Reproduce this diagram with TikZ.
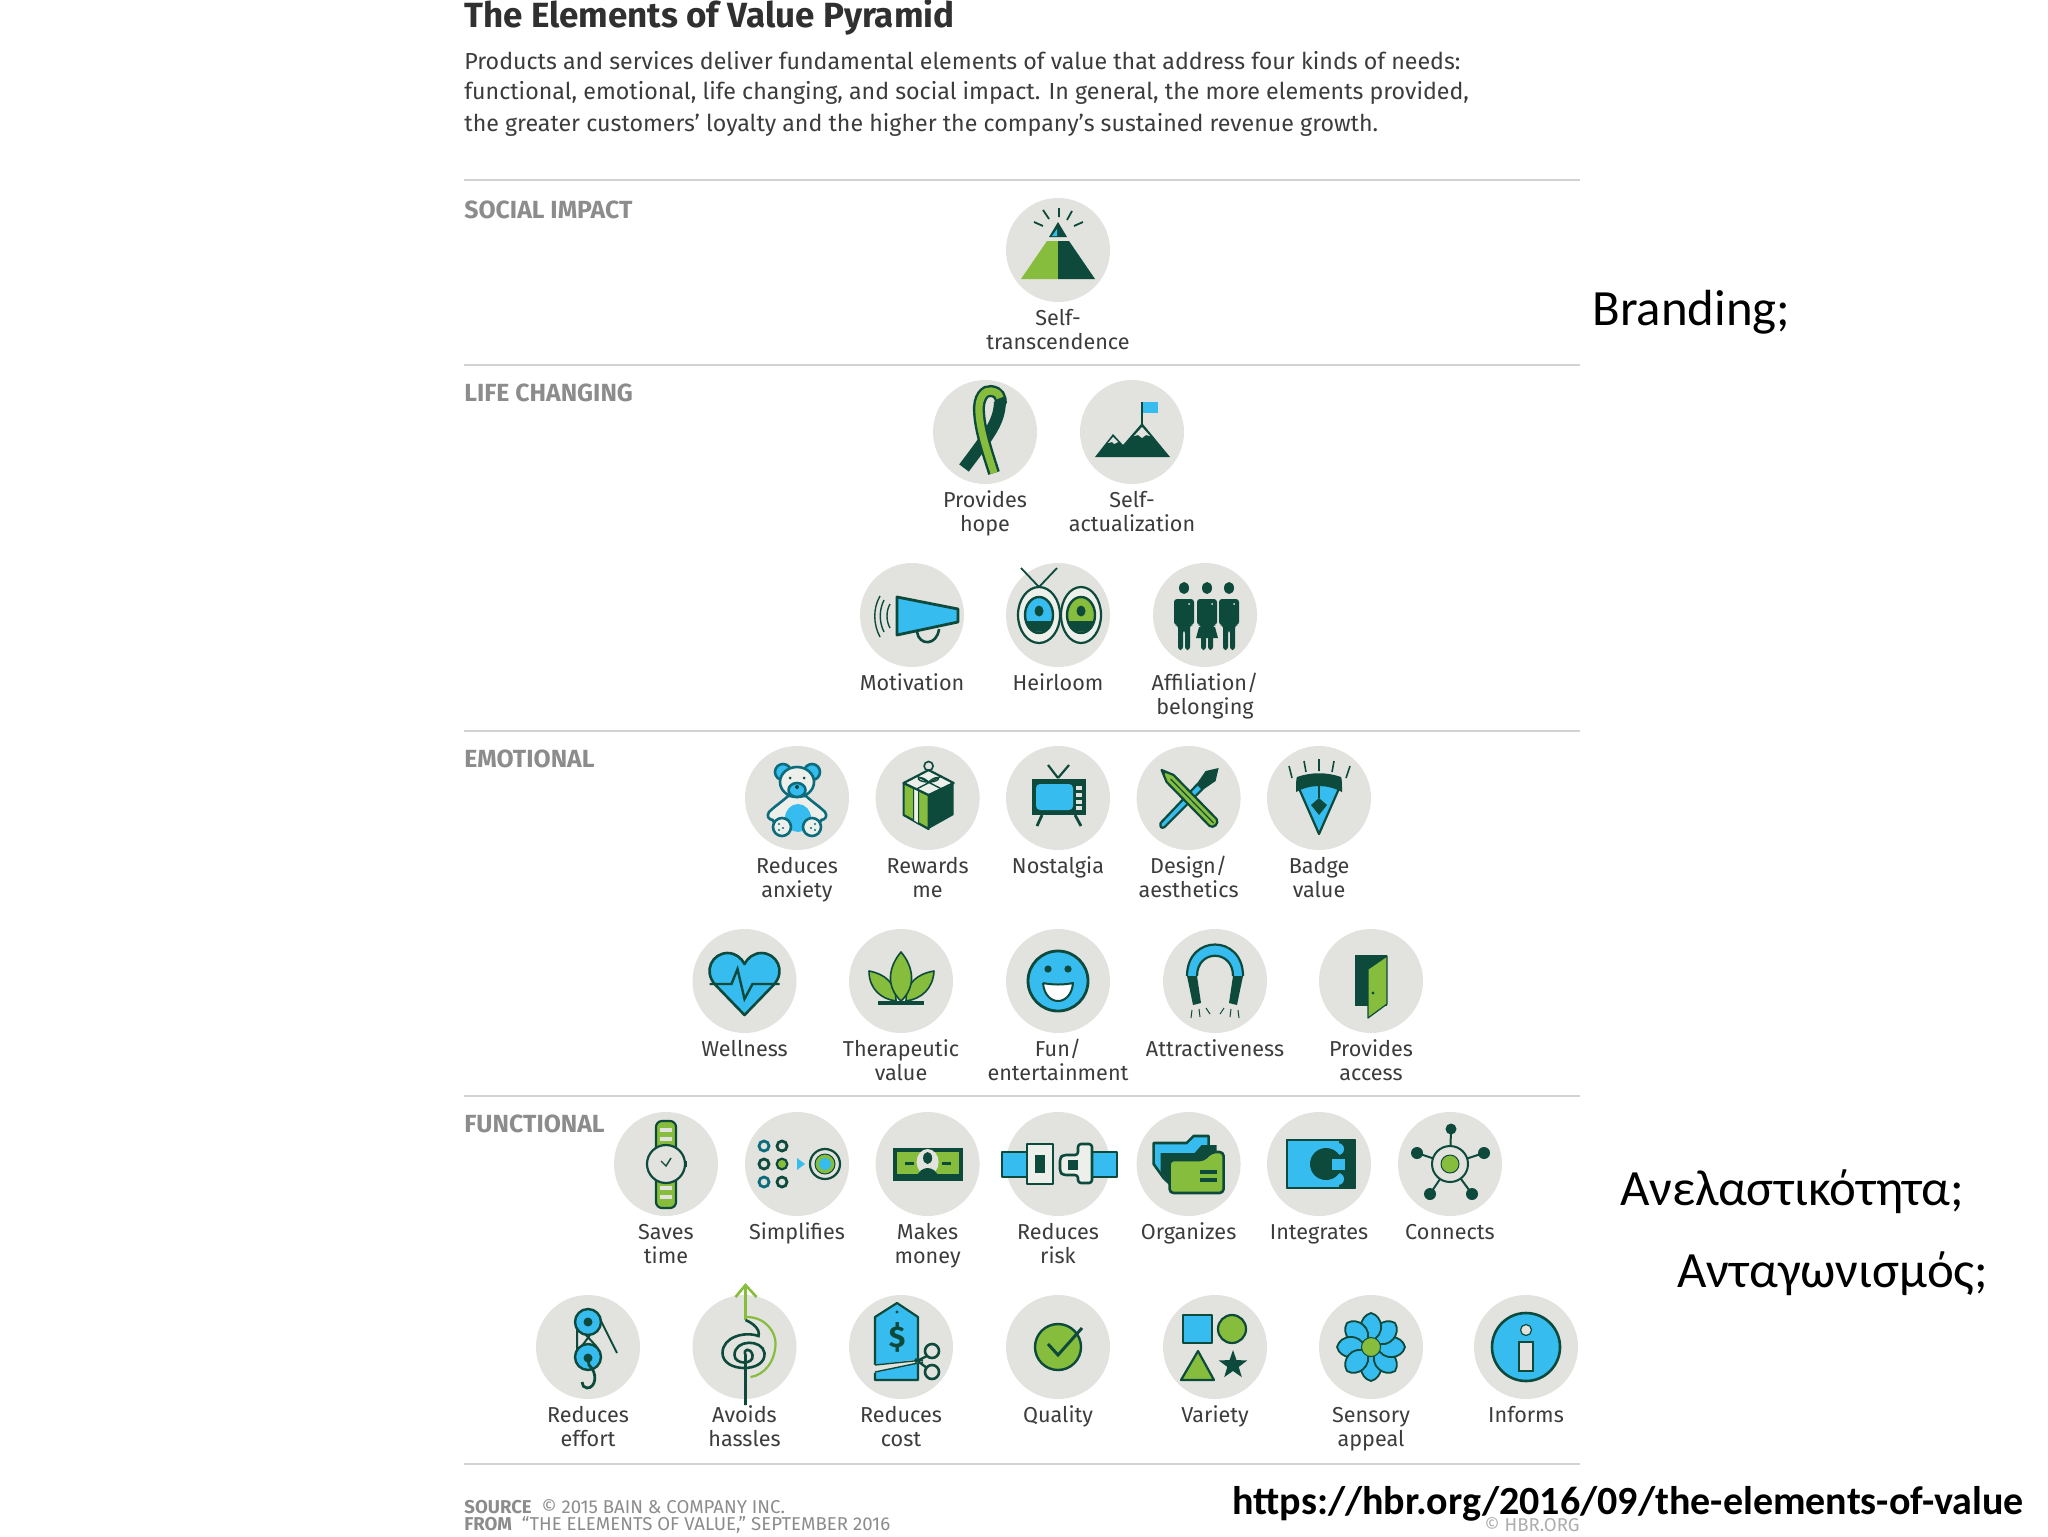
\documentclass[tikz,border=0pt]{standalone}
\usepackage{fontspec}
\setmainfont{Fira Sans}
\newfontfamily\calib{Carlito}
\definecolor{dk}{HTML}{0E4A3C}
\definecolor{gn}{HTML}{86BD3C}
\definecolor{bl}{HTML}{36BCEE}
\definecolor{tl}{HTML}{0C6C7C}
\definecolor{dsk}{HTML}{E2E2DF}
\definecolor{lt}{HTML}{EDF0EA}
\definecolor{tx}{HTML}{3C3C3C}
\definecolor{hd}{HTML}{8C8C8C}
\definecolor{rl}{HTML}{D2D2D2}
\tikzset{
  disc/.style={circle,fill=dsk,minimum size=52pt,inner sep=0pt,draw=none},
  lab/.style={anchor=north,align=center,inner sep=0pt,text=tx,font=\fontsize{10.8}{12}\selectfont},
  ol/.style={draw=dk,line width=1.1pt,line join=round},
  tol/.style={draw=tl,line width=1.3pt,line join=round},
  rule/.style={draw=rl,line width=1pt},
  sect/.style={anchor=west,inner sep=0pt,text=hd,font=\bfseries\fontsize{12.4}{14}\selectfont},
  para/.style={anchor=west,inner sep=0pt,text=tx,font=\fontsize{11.6}{13}\selectfont},
  side/.style={anchor=west,inner sep=0pt,text=black,font=\calib\fontsize{25.4}{28}\selectfont},
  foot/.style={anchor=west,inner sep=0pt,text=hd,font=\fontsize{9.3}{11}\selectfont},
}
\newcommand{\elem}[5]{%
  \node[disc] (#1) at (#2,#3) {};
  \node[lab] (#1-l) at (#2,#3+55) {\rule{0pt}{10pt}#4};
  \begin{scope}[shift={(#1.center)}]#5\end{scope}}
\begin{document}
\begin{tikzpicture}[x=.5pt,y=-.5pt]
\useasboundingbox (0,0) rectangle (2048,1536);
\fill[white] (0,0) rectangle (2048,1536);
% header
\node[anchor=west,inner sep=0pt,text=tx!80!black,font=\bfseries\fontsize{17.5}{20}\selectfont] (title) at (464,17) {The Elements of Value Pyramid};
\node[para] (p1) at (464,61) {Products and services deliver fundamental elements of value that address four kinds of needs:};
\node[para] (p2) at (464,93) {functional, emotional, life changing, and social impact. In general, the more elements provided,};
\node[para] (p3) at (464,125) {the greater customers’ loyalty and the higher the company’s sustained revenue growth.};
% rules
\foreach \yy/\nm in {180/a,365/b,731/c,1096/d,1464/e}{
  \coordinate (r\nm l) at (464,\yy); \coordinate (r\nm r) at (1580,\yy);
  \draw[rule] (r\nm l) -- (r\nm r);}
\node[sect] (s1) at (464,210) {SOCIAL IMPACT};
\node[sect] (s2) at (464,393) {LIFE CHANGING};
\node[sect] (s3) at (464,759) {EMOTIONAL};
\node[sect] (s4) at (464,1124) {FUNCTIONAL};
% --- social
\elem{trans}{1058}{250}{Self-\\transcendence}{
  \fill[gn] (-37,29)--(0,29)--(0,-9)--(-11,-9)--cycle;
  \fill[dk] (37,29)--(0,29)--(0,-9)--(11,-9)--cycle;
  \fill[dk] (0,-28)--(-9,-13)--(9,-13)--cycle;
  \fill[bl] (-1,-21)--(-6,-14)--(-1,-14)--cycle;
  \draw[ol,line width=.9pt] (-24,-28)--(-15,-24) (-15,-40)--(-9,-31) (1,-42)--(1,-33) (14,-39)--(9,-30) (25,-28)--(16,-24);
}
% --- life changing
\elem{hope}{985}{432}{Provides\\hope}{
  \draw[dk,line width=6pt] (15,-30) .. controls (14,-10) and (6,0) .. (-21,36);
  \draw[dk,line width=6pt] (9,41) .. controls (4,25) and (-5,0) .. (-6,-20) .. controls (-7,-35) and (0,-42) .. (6,-41) .. controls (14,-40) and (16,-35) .. (16,-28);
  \draw[gn,line width=3.6pt] (9,41) .. controls (4,25) and (-5,0) .. (-6,-20) .. controls (-7,-35) and (0,-42) .. (6,-41) .. controls (12,-40) and (14,-38) .. (15,-34);
}
\elem{actual}{1132}{432}{Self-\\actualization}{
  \fill[dk] (-37,25)--(-19,2)--(-9,13)--(10,-9)--(38,25)--cycle;
  \fill[dsk] (-19,5)--(-24,11)--(-20,10)--(-18,12)--(-14,10)--cycle;
  \fill[dsk] (10,-5)--(2,4)--(6,3)--(10,6)--(14,3)--(18,4)--cycle;
  \draw[dk,line width=.9pt] (10,-8)--(10,-30);
  \fill[bl] (11,-30) rectangle (26,-19);
}
\elem{motiv}{912}{615}{Motivation}{
  \draw[dk,line width=1.3pt,fill=dsk] (5,17) .. controls (7,31) and (25,31) .. (27,14);
  \draw[ol,fill=bl,line width=1.4pt] (-15,-18)--(46,-6)--(46,7)--(-15,20)--cycle;
  \draw[dk,line width=.7pt] (-22,-11) .. controls (-26,-4) and (-26,6) .. (-22,13);
  \draw[dk,line width=.7pt] (-28,-15) .. controls (-33,-5) and (-33,7) .. (-28,17);
  \draw[dk,line width=.7pt] (-32,-19) .. controls (-39,-7) and (-39,9) .. (-32,22);
}
\elem{heir}{1058}{615}{Heirloom}{
  \draw[dk,line width=.9pt] (-37,-47)--(-19,-28)--(-1,-47);
  \foreach \cx/\cc/\erad in {-19/bl/21,23/gn/20}{
    \draw[ol,fill=lt] (\cx,0) ellipse [x radius=\erad, y radius=28];
    \draw[dk,line width=1.2pt,fill=\cc] (\cx,0) ellipse [x radius=14, y radius=18];
    \fill[dk] (\cx,-4) ellipse [x radius=4.5, y radius=5.5];
    \fill[dk] (\cx-12,6) -- (\cx+12,6) -- (\cx+11,13) .. controls (\cx+5,18) and (\cx-5,18) .. (\cx-11,13) -- cycle;
  }
}
\elem{affil}{1205}{615}{Affiliation/\\belonging}{
  \foreach \px in {-21,2,24}{
    \fill[dk] (\px,-27) ellipse [x radius=5, y radius=6];
    \fill[dk,rounded corners=1.5pt] (\px-10,-16) -- (\px+10,-16) -- (\px+10,10) -- (\px+6,10) -- (\px+6,35) -- (\px+1,35) -- (\px+1,15) -- (\px-1,15) -- (\px-1,35) -- (\px-6,35) -- (\px-6,10) -- (\px-10,10) -- cycle;
    \fill[dsk] (\px+5,-11) circle (1);
  }
  \fill[dk] (-6,12)--(10,12)--(13,23)--(-9,23)--cycle;
}
% --- emotional 1
\elem{anx}{797}{798}{Reduces\\anxiety}{
  \fill[bl] (-14,-26) circle (8); \fill[bl] (15,-26) circle (8);
  \draw[tol] (-14,-26) circle (8); \draw[tol] (15,-26) circle (8);
  \draw[tol,fill=lt] (-9,-2) .. controls (-14,3) and (-22,8) .. (-28,14) .. controls (-31,18) and (-28,22) .. (-24,22) .. controls (-28,28) and (28,28) .. (24,22) .. controls (28,22) and (31,18) .. (28,14) .. controls (22,8) and (14,3) .. (9,-2) -- cycle;
  \draw[tol,fill=lt] (0,-16) ellipse [x radius=17, y radius=15];
  \draw[tol,fill=bl] (0,-8) ellipse [x radius=8.5, y radius=7];
  \fill[dk] (-7,-20) circle (1.5); \fill[dk] (7,-20) circle (1.5); \fill[dk] (0,-11) circle (2);
  \fill[bl] (1,20) ellipse [x radius=13, y radius=14];
  \draw[tol,fill=lt] (-15,29) circle (9); \draw[tol,fill=lt] (15,29) circle (9);
  \fill[tl] (-18,26) circle (1.2); \fill[tl] (-14,30) circle (1.2); \fill[tl] (-18,32) circle (1.2);
  \fill[tl] (18,26) circle (1.2); \fill[tl] (14,30) circle (1.2); \fill[tl] (18,32) circle (1.2);
}
\elem{reward}{927.6}{798}{Rewards\\me}{
  \draw[ol,fill=gn] (-24,-15)--(1,-3)--(1,31)--(-24,17)--cycle;
  \fill[dk] (26,-15)--(1,-3)--(1,31)--(26,17)--cycle;
  \draw[dk,line width=.6pt,fill=lt] (-14,-10)--(-9,-8)--(-9,26)--(-14,23)--cycle;
  \draw[ol,fill=lt] (1,-28)--(26,-15)--(1,-3)--(-24,-15)--cycle;
  \draw[dk,line width=.7pt] (-11,-9)--(14,-22) (-11,-22)--(14,-9);
  \draw[dk,line width=.7pt] (1,-16) .. controls (-10,-26) and (-15,-16) .. (1,-16) .. controls (16,-16) and (12,-26) .. (1,-16);
  \draw[dk,line width=.8pt] (1,-32) circle (4.5);
}
\elem{nost}{1058}{798}{Nostalgia}{
  \draw[dk,line width=1.1pt] (0,-20)--(-10,-33) (0,-20)--(11,-33);
  \draw[dk,line width=1.4pt] (-16,17)--(-21,28) (17,17)--(23,28);
  \fill[dk] (-26,-19) rectangle (28,17);
  \fill[bl,rounded corners=2pt] (-22,-14) rectangle (15,12);
  \foreach \yy in {-12,-5,2,8}{\fill[dsk] (18,\yy) rectangle (24,\yy+4);}
}
\elem{design}{1188.6}{798}{Design/\\aesthetics}{
  \draw[ol,fill=bl] (-28,25) .. controls (-29,29) and (-27,31) .. (-24,29) -- (14,-9) -- (9,-14) -- cycle;
  \fill[dk] (8,-14)--(14,-8)--(27,-17)--(30,-30)--(17,-27)--cycle;
  \draw[ol,fill=gn] (-27,-28)--(-15,-23)--(28,21) .. controls (31,25) and (25,31) .. (21,28) --(-22,-16)--cycle;
  \fill[dk] (-27,-28)--(-22,-26)--(-25,-23)--cycle;
  \draw[dk,line width=.6pt] (-18,-19)--(25,25);
}
\elem{badge}{1319}{798}{Badge\\value}{
  \draw[ol,fill=bl] (-22,-14)--(22,-14)--(0,36)--cycle;
  \fill[dk] (-23,-6) .. controls (-23,-14) and (-23,-19) .. (-22,-21) .. controls (-8,-26) and (8,-26) .. (22,-21) .. controls (23,-19) and (23,-14) .. (23,-6) .. controls (8,-14) and (-8,-14) .. (-23,-6);
  \fill[dk] (-8,7)--(0,0)--(8,7)--(0,17)--cycle;
  \draw[dk,line width=.7pt] (0,-14)--(0,0);
  \draw[ol,line width=.8pt] (-30,-32)--(-27,-20) (-15,-37)--(-13,-26) (0,-39)--(0,-27) (15,-37)--(13,-26) (31,-32)--(27,-20);
}
% --- emotional 2
\elem{well}{744.5}{981}{Wellness}{
  \draw[ol,fill=bl,line width=1.3pt] (0,34) -- (-29,4) .. controls (-42,-10) and (-32,-28) .. (-17,-28) .. controls (-9,-28) and (-3,-23) .. (0,-17) .. controls (3,-23) and (9,-28) .. (17,-28) .. controls (32,-28) and (42,-10) .. (29,4) -- cycle;
  \draw[dk,line width=1.2pt] (-35,3)--(-13,3)--(-7,-12)--(0,18)--(8,3)--(35,3);
}
\elem{thera}{901}{981}{Therapeutic\\value}{
  \fill[dk] (-23,20) rectangle (23,24);
  \draw[ol,fill=gn,line width=.8pt] (-5,20) .. controls (-20,18) and (-32,8) .. (-32,-10) .. controls (-16,-7) and (-5,2) .. (-5,20);
  \draw[ol,fill=gn,line width=.8pt] (5,20) .. controls (20,18) and (32,8) .. (33,-10) .. controls (16,-7) and (5,2) .. (5,20);
  \draw[ol,fill=gn,line width=.8pt] (0,20) .. controls (-16,5) and (-12,-15) .. (0,-29) .. controls (12,-15) and (16,5) .. (0,20);
}
\elem{fun}{1058}{981}{Fun/\\entertainment}{
  \draw[ol,fill=bl,line width=1.4pt] (0,0) circle (30);
  \fill[dk] (-10,-12) circle (3.6); \fill[dk] (10,-12) circle (3.6);
  \draw[ol,fill=white,line width=1pt] (-15,2) .. controls (-5,4) and (5,4) .. (15,2) .. controls (14,14) and (7,20) .. (0,20) .. controls (-7,20) and (-14,14) .. (-15,2);
}
\elem{attr}{1215}{981}{Attractiveness}{
  \fill[bl] (-28,-5) .. controls (-28,-47) and (28,-47) .. (28,-5) -- (18,-5) .. controls (18,-32) and (-18,-32) .. (-18,-5) -- cycle;
  \draw[ol] (-28,-5) .. controls (-28,-47) and (28,-47) .. (28,-5) (18,-5) .. controls (18,-32) and (-18,-32) .. (-18,-5);
  \fill[dk] (-28,-5)--(-18,-5)--(-14,22)--(-22,24)--cycle;
  \fill[dk] (28,-5)--(18,-5)--(14,22)--(22,24)--cycle;
  \draw[dk,line width=.5pt] (-23,29)--(-24,37) (-16,28)--(-15,36) (-9,27)--(-5,33) (23,29)--(24,37) (16,28)--(15,36) (9,27)--(5,33);
}
\elem{access}{1371}{981}{Provides\\access}{
  \fill[dk] (-16,-26) rectangle (16,25);
  \draw[ol,fill=gn,line width=.6pt] (16,-25)--(16,23)--(-3,37)--(-3,-12)--cycle;
  \fill[dk] (2,12) circle (1.6);
}
% --- functional 1
\elem{time}{666}{1164}{Saves\\time}{
  \draw[ol,fill=gn,rounded corners=3pt] (-10,-43) rectangle (10,44);
  \foreach \yy in {-36,-27,-18,22,31}{\fill[dsk] (-6,\yy) rectangle (6,\yy+4);}
  \draw[ol,fill=dsk] (0,0) circle (19);
  \fill[dk] (19,-3) rectangle (21,3);
  \draw[dk,line width=.7pt] (-5,-3)--(0,2)--(5,-6);
}
\elem{simp}{797}{1164}{Simplifies}{
  \foreach \px/\py/\cc in {-33/-18/tl,-15/-18/dk,-33/0/dk,-15/0/dk,-33/18/tl,-15/18/dk}{\draw[draw=\cc,line width=1.4pt] (\px,\py) circle (5);}
  \fill[gn] (-15,0) circle (4);
  \fill[bl] (0,-6)--(8,0)--(0,6)--cycle;
  \draw[dk,line width=1.1pt,fill=dsk] (28,0) circle (15);
  \draw[dk,line width=.5pt,fill=gn] (28,0) circle (10);
  \fill[bl] (28,0) circle (6);
}
\elem{money}{927.6}{1164}{Makes\\money}{
  \fill[dk] (-35,-16) rectangle (35,17);
  \fill[gn] (-31,-12) rectangle (31,10);
  \fill[dk] (-23,-2) rectangle (-14,1); \fill[dk] (14,-2) rectangle (23,1);
  \fill[dsk] (0,-2) ellipse [x radius=11, y radius=13];
  \fill[dk] (0,-6) ellipse [x radius=4.5, y radius=6];
  \fill[dk] (-11,13) .. controls (-7,1) and (7,1) .. (11,13) -- cycle;
}
\elem{risk}{1058}{1164}{Reduces\\risk}{
  \draw[ol,fill=bl] (-56,-12) rectangle (-31,13);
  \draw[ol,fill=bl] (34,-12) rectangle (59,13);
  \draw[ol,fill=lt,line width=1.3pt] (-31,-20) rectangle (-5,20);
  \fill[dk] (-23,-9) rectangle (-13,9);
  \draw[ol,fill=lt,line width=1.3pt,rounded corners=1.5pt] (20,-20) -- (34,-20) -- (34,19) -- (20,19) -- (20,11) -- (5,11) -- (2,8) -- (2,-6) -- (5,-9) -- (20,-9) -- cycle;
  \fill[dk] (10,-4) rectangle (20,6);
}
\elem{org}{1188.6}{1164}{Organizes}{
  \draw[ol,fill=bl,line width=1.3pt] (-35,-21) -- (-2,-21) -- (5,-28) -- (20,-28) -- (20,-8) -- (-10,28) -- (-25,14) -- (-35,0) -- cycle;
  \fill[dk] (-28,-11) -- (6,-11) -- (13,-19) -- (28,-19) -- (28,0) -- (-12,28) -- (-28,8) -- cycle;
  \draw[ol,fill=gn,line width=1.3pt,rounded corners=2pt] (-19,-4) -- (15,-4) -- (23,-12) -- (35,-12) -- (35,29) -- (-19,29) -- cycle;
  \fill[dk] (11,6) rectangle (28,10); \fill[dk] (11,14) rectangle (28,18);
}
\elem{integ}{1319}{1164}{Integrates}{
  \draw[ol,fill=bl,line width=1.4pt] (-32,-24) rectangle (36,24);
  \fill[dk] (13,-24) rectangle (36,24);
  \fill[bl] (13,-24) rectangle (20,-8); \fill[bl] (13,8) rectangle (20,24);
  \fill[bl] (19,-15) circle (6); \fill[bl] (19,15) circle (6);
  \fill[dk] (7,0) circle (16);
  \fill[bl] (13,-5) rectangle (26,6);
  \draw[ol,line width=1.4pt] (-32,-24) rectangle (36,24);
}
\elem{conn}{1450}{1164}{Connects}{
  \draw[dk,line width=1pt] (1,-35)--(0,0) (-33,-11)--(0,0) (34,-11)--(0,0) (-20,30)--(0,0) (22,30)--(0,0);
  \fill[dk] (1,-35) circle (5.5); \fill[dk] (-33,-11) circle (6); \fill[dk] (34,-11) circle (6); \fill[dk] (-20,30) circle (6); \fill[dk] (22,30) circle (6);
  \draw[dk,line width=1pt,fill=dsk] (0,0) circle (18);
  \draw[dk,line width=.5pt,fill=gn] (0,0) circle (9);
}
% --- functional 2
\elem{effort}{588}{1347}{Reduces\\effort}{
  \draw[dk,line width=1pt] (10,-32)--(29,6);
  \draw[dk,line width=1pt] (-11,-20)--(-11,6) (-3,-13)--(9,0) (-9,3)--(2,-12);
  \draw[ol,fill=bl,line width=1.2pt] (0,-25) circle (13);
  \draw[ol,fill=bl,line width=1.2pt] (0,10) circle (13);
  \fill[dk] (0,-25) circle (4.5); \fill[dk] (0,11) circle (4.5);
  \draw[dk,line width=1.4pt] (0,12) -- (1,18) .. controls (10,26) and (8,41) .. (-1,41) .. controls (-4,41) and (-6,38) .. (-6,35);
}
\elem{hassle}{744.5}{1347}{Avoids\\hassles}{
  \draw[gn,line width=1.1pt] (2,-30) .. controls (22,-30) and (31,-14) .. (31,-4) .. controls (31,14) and (20,28) .. (6,30);
  \draw[gn,line width=1.3pt] (1,-27)--(1,-61);
  \draw[gn,line width=1.3pt] (-9,-50)--(1,-62)--(12,-50);
  \draw[dk,line width=1.3pt] (1,-27) .. controls (8,-24) and (16,-18) .. (14,-11) .. controls (0,-16) and (-22,-10) .. (-22,6) .. controls (-22,26) and (22,26) .. (20,6) .. controls (18,-8) and (-10,-8) .. (-10,8) .. controls (-10,18) and (10,18) .. (8,8) .. controls (6,0) and (-2,2) .. (1,8) -- (1,58);
}
\elem{cost}{901}{1347}{Reduces\\cost}{
  \draw[ol,fill=bl] (-26,33) -- (-26,-30) -- (-4,-44) -- (17,-30) -- (17,33) -- cycle;
  \fill[dk] (-4,-35) circle (1.6);
  \node[inner sep=0pt,text=dk,font=\bfseries\fontsize{15}{15}\selectfont] (cost-s) at (-4,-10) {\$};
  \fill[dsk] (-28,18)--(20,12)--(22,15)--(-28,26)--cycle;
  \draw[dk,line width=.7pt] (-26,18)--(22,13) (-26,25)--(22,15);
  \draw[dk,line width=1.2pt] (14,15)--(26,9) (14,12)--(26,21);
  \draw[dk,line width=1.3pt] (31,4) circle (7);
  \draw[dk,line width=1.3pt] (31,25) circle (7);
}
\elem{qual}{1058}{1347}{Quality}{
  \draw[ol,fill=gn,line width=1.2pt] (0,0) circle (23);
  \draw[dk,line width=1.5pt] (-10,-3)--(0,8)--(24,-19);
}
\elem{vari}{1215}{1347}{Variety}{
  \draw[ol,fill=bl,line width=1.1pt] (-32,-32) rectangle (-3,-4);
  \draw[ol,fill=gn,line width=1.1pt] (17,-18) circle (14);
  \draw[ol,fill=gn,line width=1.1pt] (-17,4)--(-1,33)--(-34,33)--cycle;
  \fill[dk] (18,3)--(21.5,13.1)--(32.3,13.4)--(23.7,19.9)--(26.8,30.1)--(18,24)--(9.2,30.1)--(12.3,19.9)--(3.7,13.4)--(14.5,13.1)--cycle;
}
\elem{sens}{1371}{1347}{Sensory\\appeal}{
  \foreach \a in {0,45,...,315}{\draw[ol,fill=bl,line width=.9pt,rotate=\a] (0,6) .. controls (-15,12) and (-12,31) .. (0,34) .. controls (12,31) and (15,12) .. (0,6);}
  \draw[ol,fill=gn,line width=.5pt] (0,0) circle (9.5);
}
\elem{info}{1526}{1347}{Informs}{
  \draw[ol,fill=bl,line width=1.3pt] (0,0) circle (34);
  \draw[dk,line width=.6pt,fill=dsk] (0,-17) circle (5.5);
  \draw[dk,line width=.6pt,fill=dsk] (-7,-5) rectangle (7,24);
}
% footer
\node[foot] (src) at (464,1507) {\textbf{SOURCE}\ \ © 2015 BAIN \& COMPANY INC.};
\node[foot] (from) at (464,1525) {\textbf{FROM}\ \ “THE ELEMENTS OF VALUE,” SEPTEMBER 2016};
\node[foot,anchor=east,text=hd!70] (hbr) at (1580,1525) {© HBR.ORG};
% side notes
\node[side] (brand) at (1592,312) {Branding;};
\node[side] (anel) at (1620,1192) {Ανελαστικότητα;};
\node[side] (anta) at (1677,1274) {Ανταγωνισμός;};
\node[side,font=\calib\bfseries\fontsize{20}{23}\selectfont] (url) at (1232,1504) {https://hbr.org/2016/09/the-elements-of-value};
\end{tikzpicture}
\end{document}
